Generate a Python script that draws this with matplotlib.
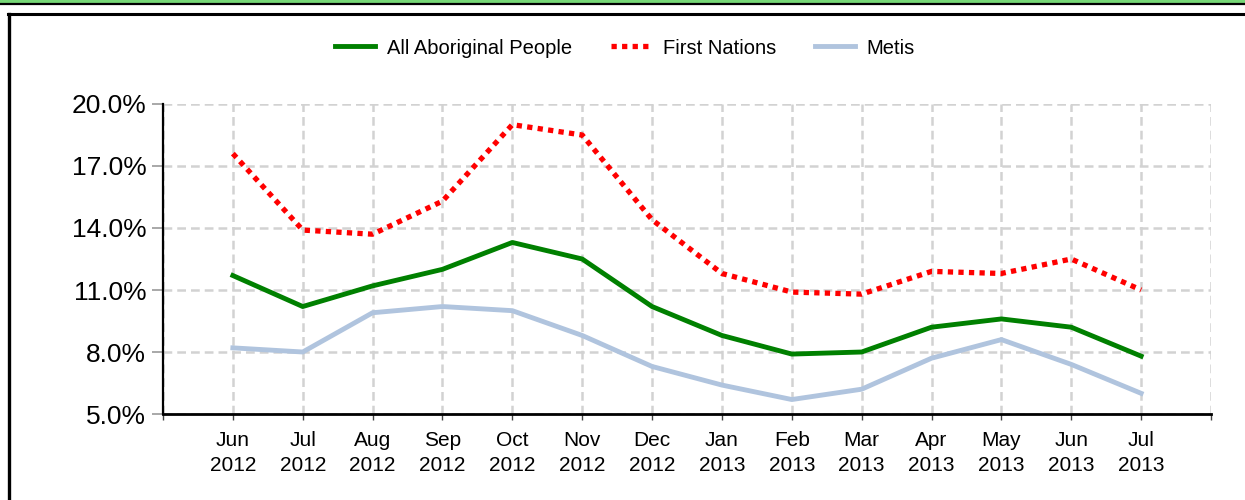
import matplotlib
matplotlib.use("Agg")
import matplotlib.pyplot as plt
from matplotlib.lines import Line2D
from matplotlib.patches import Rectangle

plt.rcParams['font.family'] = ['Liberation Sans', 'DejaVu Sans']

months = ["Jun\n2012", "Jul\n2012", "Aug\n2012", "Sep\n2012", "Oct\n2012", "Nov\n2012",
          "Dec\n2012", "Jan\n2013", "Feb\n2013", "Mar\n2013", "Apr\n2013", "May\n2013",
          "Jun\n2013", "Jul\n2013"]
all_aboriginal = [11.7, 10.2, 11.2, 12.0, 13.3, 12.5, 10.2, 8.8, 7.9, 8.0, 9.2, 9.6, 9.2, 7.8]
first_nations = [17.6, 13.9, 13.7, 15.3, 19.0, 18.5, 14.4, 11.8, 10.9, 10.8, 11.9, 11.8, 12.5, 11.0]
metis = [8.2, 8.0, 9.9, 10.2, 10.0, 8.8, 7.3, 6.4, 5.7, 6.2, 7.7, 8.6, 7.4, 6.0]
yticks = [5, 8, 11, 14, 17, 20]

fig = plt.figure(figsize=(12.45, 5.0), dpi=100)
W, H = 1245, 500

# decorative frame
fig.add_artist(Rectangle((0, 1 - 3 / H), 1, 3 / H, transform=fig.transFigure,
                         facecolor="#77d877", edgecolor="none"))
fig.add_artist(Line2D([0, 1], [1 - 3.5 / H, 1 - 3.5 / H], transform=fig.transFigure,
                      color="black", lw=1.6))
fig.add_artist(Line2D([8 / W, 1], [1 - 14 / H, 1 - 14 / H], transform=fig.transFigure,
                      color="black", lw=2.2))
fig.add_artist(Line2D([9 / W, 9 / W], [0, 1 - 14 / H], transform=fig.transFigure,
                      color="black", lw=2.4))

ax = fig.add_axes([163 / W, 86 / H, (1211 - 163) / W, (414 - 104) / H])
x = list(range(len(months)))

ax.plot(x, all_aboriginal, color="#008000", lw=3.5, label="All Aboriginal People",
        solid_joinstyle="round", zorder=3)
ax.plot(x, first_nations, color="#ff0000", lw=3.8, linestyle=(0, (1, 1.0)),
        dash_capstyle="butt", label="First Nations", zorder=3)
ax.plot(x, metis, color="#b0c4de", lw=3.5, label="Metis", solid_joinstyle="round", zorder=3)

ax.set_xlim(-1, 14)
ax.set_ylim(5, 20)
ax.set_xticks(range(-1, 15))
ax.set_xticklabels([""] + months + [""], fontsize=15, linespacing=1.4)
ax.set_yticks(yticks)
ax.set_yticklabels([f"{v:.1f}%" for v in yticks], fontsize=19)

ax.grid(True, color="#d2d2d2", linestyle=(0, (3.5, 2)), lw=1.8, zorder=0)
ax.set_axisbelow(True)
for s in ["top", "right"]:
    ax.spines[s].set_visible(False)
ax.spines["left"].set_color("black")
ax.spines["left"].set_linewidth(1.6)
ax.spines["bottom"].set_color("black")
ax.spines["bottom"].set_linewidth(2.0)
ax.tick_params(axis="y", length=8, width=1.2, color="#999999", pad=4)
ax.tick_params(axis="x", length=4, width=1.0, color="#444444", pad=8)

leg = fig.legend(loc="center", bbox_to_anchor=(625 / W, 1 - 48 / H), ncol=3, frameon=False,
                 fontsize=14.5, handlelength=2.0, handletextpad=0.6, columnspacing=1.9)

fig.savefig("out.png", dpi=100)
